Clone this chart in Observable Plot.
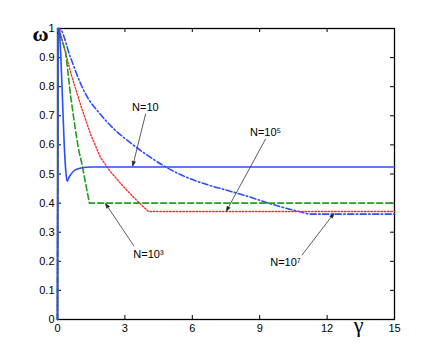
<!DOCTYPE html>
<html><head><meta charset="utf-8">
<script src="https://cdn.jsdelivr.net/npm/d3@7"></script>
<script src="https://cdn.jsdelivr.net/npm/@observablehq/plot@0.6"></script>
<style>body{margin:0;background:#fff}#chart{position:absolute;left:0;top:0}</style>
</head><body><div id="chart"></div>
<script>
// Series (gamma -> omega)
const gammaN10 = [0, 0.03, 0.08, 0.15, 0.22, 0.3, 0.38, 0.43, 0.5, 0.58, 0.75, 1.0, 1.5, 15];
const omegaN10 = [0, 1, 0.99, 0.9, 0.76, 0.6, 0.5, 0.475, 0.487, 0.497, 0.512, 0.52, 0.524, 0.524];
const gammaN1e3 = [0, 0.03, 0.2, 0.36, 0.58, 0.8, 0.95, 1.1, 1.27, 1.42, 15];
const omegaN1e3 = [0, 1, 0.96, 0.92, 0.77, 0.65, 0.58, 0.53, 0.46, 0.4, 0.4];
const gammaN1e5 = [0, 0.03, 0.08, 0.58, 1.02, 1.47, 1.91, 2.21, 2.36, 2.95, 3.62, 4.05, 15];
const omegaN1e5 = [0, 1, 1, 0.85, 0.74, 0.637, 0.557, 0.524, 0.508, 0.455, 0.402, 0.371, 0.371];
const gammaN1e7 = [0, 0.03, 0.08, 0.58, 1.02, 1.25, 1.91, 2.51, 3.25, 3.99, 4.73, 5.47, 6.81, 7.5, 8.6, 9.3, 10.0, 10.8, 11.3, 15];
const omegaN1e7 = [0, 1, 1, 0.9, 0.812, 0.775, 0.705, 0.655, 0.607, 0.565, 0.528, 0.498, 0.46, 0.445, 0.42, 0.402, 0.386, 0.37, 0.362, 0.362];

// Ticks
const xTicks = [0, 3, 6, 9, 12, 15];
const yTicks = [0, 0.1, 0.2, 0.3, 0.4, 0.5, 0.6, 0.7, 0.8, 0.9, 1];

// Annotations (data coordinates)
const annLabels = ["N=10", "N=10\u2075", "N=10\u00B3", "N=10\u2077"];
const annTextG = [3.91, 9.26, 4.05, 10.15];
const annTextW = [0.729, 0.643, 0.222, 0.196];
const annFromG = [3.92, 9.26, 3.4, 10.89];
const annFromW = [0.706, 0.62, 0.253, 0.222];
const annToG = [3.35, 7.52, 2.14, 12.3];
const annToW = [0.528, 0.373, 0.398, 0.364];

const toRows = (g, w) => g.map((x, i) => ({g: x, w: w[i]}));
const ann = annLabels.map((t, i) => ({t, tg: annTextG[i], tw: annTextW[i], fg: annFromG[i], fw: annFromW[i], eg: annToG[i], ew: annToW[i]}));

const blue = "#2a4dff", green = "#1f9e1f", red = "#ff2a2a";
const font = "Liberation Sans, Arial, Helvetica, sans-serif";
const W = 436, H = 359, ML = 57, MR = 42, MT = 28, MB = 40;
const FW = W - ML - MR, FH = H - MT - MB, TL = 4;

const plot = Plot.plot({
  width: W, height: H,
  marginLeft: ML, marginRight: MR, marginTop: MT, marginBottom: MB,
  style: {fontFamily: font, fontSize: "11px", background: "#fff", color: "#000"},
  x: {domain: [0, 15]},
  y: {domain: [0, 1]},
  marks: [
    // inward ticks on all four sides
    Plot.tickX(xTicks, {x: d => d, insetTop: FH - TL, stroke: "#000", strokeWidth: 1}),
    Plot.tickX(xTicks, {x: d => d, insetBottom: FH - TL, stroke: "#000", strokeWidth: 1}),
    Plot.tickY(yTicks, {y: d => d, insetRight: FW - TL, stroke: "#000", strokeWidth: 1}),
    Plot.tickY(yTicks, {y: d => d, insetLeft: FW - TL, stroke: "#000", strokeWidth: 1}),
    Plot.frame({stroke: "#000", strokeWidth: 1.3}),
    Plot.axisX(xTicks, {anchor: "bottom", tickSize: 0, tickPadding: 5, label: null, fontSize: 11}),
    Plot.axisY(yTicks, {anchor: "left", tickSize: 0, tickPadding: 3, label: null, fontSize: 11, tickFormat: d => String(+d.toFixed(1))}),
    Plot.line(toRows(gammaN1e7, omegaN1e7), {x: "g", y: "w", stroke: blue, strokeWidth: 1.6, strokeDasharray: "6,2.5,1.5,2.5", curve: "monotone-x"}),
    Plot.line(toRows(gammaN1e5, omegaN1e5), {x: "g", y: "w", stroke: red, strokeWidth: 1.4, strokeDasharray: "1.5,1.8"}),
    Plot.line(toRows(gammaN1e3, omegaN1e3), {x: "g", y: "w", stroke: green, strokeWidth: 1.6, strokeDasharray: "6,3"}),
    Plot.line(toRows(gammaN10, omegaN10), {x: "g", y: "w", stroke: blue, strokeWidth: 1.6, curve: "monotone-x"}),
    Plot.arrow(ann, {x1: "fg", y1: "fw", x2: "eg", y2: "ew", stroke: "#333", fill: "#000", strokeWidth: 0.8, headLength: 9, headAngle: 40}),
    Plot.text(ann, {x: "tg", y: "tw", text: "t", fontSize: 11, fill: "#000"}),
    Plot.text(["\u03C9"], {frameAnchor: "top-left", dx: -25, dy: -3, fontSize: 22, fontWeight: "bold", fontFamily: "Liberation Serif, Times New Roman, serif"}),
    Plot.text(["\u03B3"], {frameAnchor: "bottom-right", dx: -31, dy: 12, fontSize: 22, fontFamily: "Liberation Serif, Times New Roman, serif"})
  ]
});
document.getElementById("chart").appendChild(plot);
</script>
</body></html>
